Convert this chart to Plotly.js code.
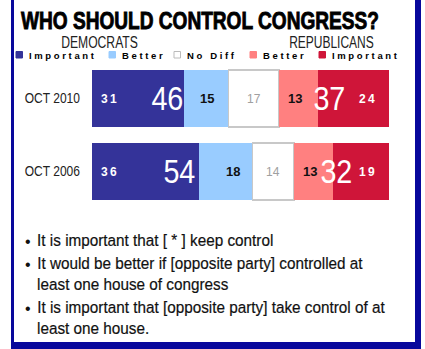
<!DOCTYPE html>
<html><head><meta charset="utf-8">
<script src="https://cdn.plot.ly/plotly-3.0.1.min.js"></script>
<style>html,body{margin:0;padding:0;background:#fff;}#chart{width:425px;height:349px;}</style>
</head><body><div id="chart"></div>
<script>
// ---- data ----
const periods = ["OCT 2010", "OCT 2006"];
const demImportant = [31, 36];
const demBetter = [15, 18];
const noDiff = [17, 14];
const repBetter = [13, 13];
const repImportant = [24, 19];
const legendLabels = ["Important", "Better", "No Diff", "Better", "Important"];
const chartTitle = "WHO SHOULD CONTROL CONGRESS?";
const groupLabels = ["DEMOCRATS", "REPUBLICANS"];
const bullets = [
  ["It is important that [ * ] keep control"],
  ["It would be better if [opposite party] controlled at", "least one house of congress"],
  ["It is important that [opposite party] take control of at", "least one house."]
];

// ---- style ----
const colors = ["#343399", "#99ccff", "#ffffff", "#ff8080", "#cf1539"];
const SANS = "Liberation Sans, Arial, sans-serif";
const W = 425, H = 349, L = 92, R = 36, T = 62, B = 141;
const PW = W - L - R, PH = H - T - B;
const px = x => (x - L) / PW;
const py = y => (H - B - y) / PH;

const series = [demImportant, demBetter, noDiff, repBetter, repImportant];
const traces = series.map((vals, i) => ({
  type: "bar", orientation: "h", y: periods, x: vals,
  marker: {color: colors[i], line: {color: i === 2 ? "#c8c8c8" : colors[i], width: i === 2 ? 1.5 : 0}},
  hoverinfo: "skip", showlegend: false
}));

const ann = [];
const shapes = [];
const squeeze = {};
function addAnn(a, sx, origin, stroke) {
  if (sx) squeeze[ann.length] = {sx: sx, o: origin || "center", stroke: stroke || 0};
  ann.push(Object.assign({showarrow: false}, a));
}
const spaced = v => String(v).split("").join("\u2009");

periods.forEach((p, r) => {
  const vals = series.map(s => s[r]);
  const cum = [0];
  vals.forEach(v => cum.push(cum[cum.length - 1] + v));
  addAnn({x: cum[0], y: p, xref: "x", yref: "y", text: "<b>" + spaced(vals[0]) + "</b>",
    xanchor: "center", xshift: 17, font: {family: SANS, size: 12, color: "#fff"}});
  addAnn({x: (cum[1] + cum[2]) / 2, y: p, xref: "x", yref: "y", text: "<b>" + vals[1] + "</b>",
    xanchor: "center", xshift: r === 1 ? 7 : 1, font: {family: SANS, size: 13, color: "#111"}});
  addAnn({x: (cum[2] + cum[3]) / 2, y: p, xref: "x", yref: "y", text: String(vals[2]),
    xanchor: "center", font: {family: SANS, size: 12, color: "#a0a0a0"}});
  addAnn({x: (cum[3] + cum[4]) / 2, y: p, xref: "x", yref: "y", text: "<b>" + vals[3] + "</b>",
    xanchor: "center", xshift: -3, font: {family: SANS, size: 13, color: "#111"}});
  addAnn({x: cum[5], y: p, xref: "x", yref: "y", text: "<b>" + spaced(vals[4]) + "</b>",
    xanchor: "center", xshift: -22, font: {family: SANS, size: 12, color: "#fff"}});
  const demTotal = vals[0] + vals[1];
  const repTotal = vals[3] + vals[4];
  addAnn({x: demTotal / 2, y: p, xref: "x", yref: "y", text: String(demTotal),
    xanchor: "center", xshift: 7, font: {family: SANS, size: 33, color: "#fff"}}, 0.87);
  addAnn({x: cum[3] + repTotal / 2, y: p, xref: "x", yref: "y", text: String(repTotal),
    xanchor: "center", xshift: -5, font: {family: SANS, size: 33, color: "#fff"}}, 0.87);
});

// title and group labels
addAnn({x: px(19), y: py(20.5), xref: "paper", yref: "paper", text: "<b>" + chartTitle + "</b>",
  xanchor: "left", yanchor: "middle", font: {family: SANS, size: 24, color: "#000"}}, 0.795, "left", 0.9);
addAnn({x: px(99), y: py(43), xref: "paper", yref: "paper", text: groupLabels[0],
  xanchor: "center", yanchor: "middle", font: {family: SANS, size: 16, color: "#222"}}, 0.76);
addAnn({x: px(331), y: py(43), xref: "paper", yref: "paper", text: groupLabels[1],
  xanchor: "center", yanchor: "middle", font: {family: SANS, size: 16, color: "#222"}}, 0.75);

// legend
const legX = [16, 109, 174, 250, 319];
legendLabels.forEach((lab, i) => {
  shapes.push({type: "rect", xref: "paper", yref: "paper", x0: px(legX[i]), x1: px(legX[i] + 6.5), y0: py(58), y1: py(51.5),
    fillcolor: colors[i], line: {color: i === 2 ? "#bbbbbb" : colors[i], width: 1}});
  addAnn({x: px(legX[i] + 11), y: py(55), xref: "paper", yref: "paper", text: "<b>" + lab.split("").join(" ") + "</b>",
    xanchor: "left", yanchor: "middle", font: {family: SANS, size: 9.5, color: "#000"}});
});

// bullets
let yy = 240;
bullets.forEach(item => {
  item.forEach((line, j) => {
    if (j === 0) addAnn({x: px(28), y: py(yy + 1), xref: "paper", yref: "paper", text: "•",
      xanchor: "center", yanchor: "middle", font: {family: SANS, size: 16, color: "#111"}});
    addAnn({x: px(35), y: py(yy), xref: "paper", yref: "paper", text: line,
      xanchor: "left", yanchor: "middle", font: {family: SANS, size: 17, color: "#111"}}, 0.9, "left", 0.2);
    yy += 20.8;
  });
  yy += 2.5;
});

// border
const BC = "#08089c";
shapes.push({type: "rect", xref: "paper", yref: "paper", x0: px(11), x1: px(14), y0: py(349), y1: py(0), fillcolor: BC, line: {width: 0}});
shapes.push({type: "rect", xref: "paper", yref: "paper", x0: px(415), x1: px(421), y0: py(349), y1: py(0), fillcolor: BC, line: {width: 0}});
shapes.push({type: "rect", xref: "paper", yref: "paper", x0: px(11), x1: px(421), y0: py(349), y1: py(342), fillcolor: BC, line: {width: 0}});

const layout = {
  width: W, height: H, margin: {l: L, r: R, t: T, b: B, pad: 0},
  paper_bgcolor: "#fff", plot_bgcolor: "#fff",
  barmode: "stack", bargap: 0.22,
  xaxis: {range: [0, 100], visible: false, fixedrange: true},
  yaxis: {autorange: "reversed", showgrid: false, zeroline: false, showline: false, ticks: "",
    ticklabelstandoff: 11, tickfont: {family: SANS, size: 14, color: "#222"}},
  annotations: ann, shapes: shapes, showlegend: false
};

function condense(gd) {
  gd.querySelectorAll("g.annotation").forEach(g => {
    const s = squeeze[+g.getAttribute("data-index")];
    if (!s) return;
    const t = g.querySelector("text.annotation-text");
    if (!t) return;
    t.style.transformBox = "fill-box";
    t.style.transformOrigin = s.o + " center";
    t.style.transform = "scaleX(" + s.sx + ")";
    if (s.stroke) {
      t.style.stroke = t.style.fill || "#000";
      t.style.strokeWidth = s.stroke + "px";
    }
  });
  gd.querySelectorAll(".ytick text").forEach(t => {
    const x = parseFloat(t.getAttribute("x")) || 0;
    const tr = t.getAttribute("transform") || "";
    t.setAttribute("transform", tr + " translate(" + x + ",0) scale(0.86,1) translate(" + (-x) + ",0)");
  });
}
Plotly.newPlot("chart", traces, layout, {displayModeBar: false, staticPlot: true}).then(condense);
</script></body></html>
